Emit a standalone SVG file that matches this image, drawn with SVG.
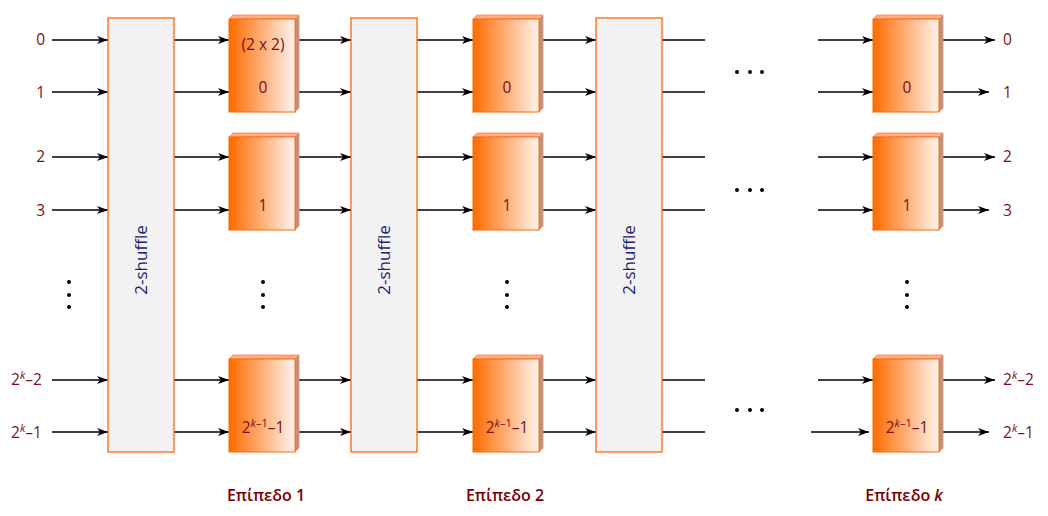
<svg xmlns="http://www.w3.org/2000/svg" width="1048" height="516" viewBox="0 0 1048 516">
<defs>
<linearGradient id="sg" x1="0" y1="0" x2="1" y2="0">
<stop offset="0" stop-color="#ff6a00"/>
<stop offset="1" stop-color="#fff4ee"/>
</linearGradient>
<marker id="ar" markerWidth="12" markerHeight="8" refX="11" refY="4" orient="auto" markerUnits="userSpaceOnUse">
<path d="M0,0 L11,4 L0,8 L3,4 Z" fill="#000"/>
</marker>
<g id="sw">
<path d="M0,4 L4,0 L70,0 L66,4 Z" fill="#ffb08a" stroke="#ff8040" stroke-width="0.8"/>
<path d="M66,4 L70,0 L70,93 L66,97 Z" fill="#c09080" stroke="#e09070" stroke-width="0.8"/>
<rect x="0" y="4" width="66" height="93" fill="url(#sg)" stroke="#ff6a00" stroke-width="1"/>
</g>
</defs>
<style>
.sh{fill:#f2f2f2;stroke:#ff6a00;stroke-width:1.3}
.ln{stroke:#000;stroke-width:1.3;fill:none}
.a{marker-end:url(#ar)}
.lb{font-family:"Open Sans","DejaVu Sans",sans-serif;font-size:15.5px;fill:#7a1010}
.bl{font-family:"Open Sans","DejaVu Sans",sans-serif;font-size:16px;fill:#7a0000;font-weight:600}
.st{font-family:"Open Sans","DejaVu Sans",sans-serif;font-size:17px;fill:#22226e}
.dt{fill:#000}
</style>
<rect width="1048" height="516" fill="#fff"/>

<g id="connectors">
<g class="ln a">
<line x1="52" y1="40" x2="108" y2="40"/><line x1="52" y1="92" x2="108" y2="92"/>
<line x1="52" y1="157" x2="108" y2="157"/><line x1="52" y1="210" x2="108" y2="210"/>
<line x1="52" y1="380" x2="108" y2="380"/><line x1="52" y1="432" x2="108" y2="432"/>
<line x1="174" y1="40" x2="229" y2="40"/><line x1="174" y1="92" x2="229" y2="92"/>
<line x1="174" y1="157" x2="229" y2="157"/><line x1="174" y1="210" x2="229" y2="210"/>
<line x1="174" y1="380" x2="229" y2="380"/><line x1="174" y1="432" x2="229" y2="432"/>
<line x1="297" y1="40" x2="351" y2="40"/><line x1="297" y1="92" x2="351" y2="92"/>
<line x1="297" y1="157" x2="351" y2="157"/><line x1="297" y1="210" x2="351" y2="210"/>
<line x1="297" y1="380" x2="351" y2="380"/><line x1="297" y1="432" x2="351" y2="432"/>
<line x1="417" y1="40" x2="473" y2="40"/><line x1="417" y1="92" x2="473" y2="92"/>
<line x1="417" y1="157" x2="473" y2="157"/><line x1="417" y1="210" x2="473" y2="210"/>
<line x1="417" y1="380" x2="473" y2="380"/><line x1="417" y1="432" x2="473" y2="432"/>
<line x1="541" y1="40" x2="596" y2="40"/><line x1="541" y1="92" x2="596" y2="92"/>
<line x1="541" y1="157" x2="596" y2="157"/><line x1="541" y1="210" x2="596" y2="210"/>
<line x1="541" y1="380" x2="596" y2="380"/><line x1="541" y1="432" x2="596" y2="432"/>
<line x1="818" y1="40" x2="873" y2="40"/><line x1="818" y1="92" x2="873" y2="92"/>
<line x1="818" y1="157" x2="873" y2="157"/><line x1="818" y1="210" x2="873" y2="210"/>
<line x1="818" y1="380" x2="873" y2="380"/><line x1="811" y1="432" x2="869" y2="432"/>
<line x1="941" y1="40" x2="995" y2="40"/><line x1="941" y1="92" x2="989" y2="92"/>
<line x1="941" y1="157" x2="995" y2="157"/><line x1="941" y1="210" x2="989" y2="210"/>
<line x1="941" y1="380" x2="995" y2="380"/><line x1="943" y1="432" x2="989" y2="432"/>
</g>
<g class="ln">
<line x1="662" y1="40" x2="705" y2="40"/><line x1="662" y1="92" x2="705" y2="92"/>
<line x1="662" y1="157" x2="705" y2="157"/><line x1="662" y1="210" x2="705" y2="210"/>
<line x1="662" y1="380" x2="705" y2="380"/><line x1="662" y1="432" x2="705" y2="432"/>
</g>
</g>

<g id="shuffle1"><rect class="sh" x="108" y="18" width="66" height="434"/>
<text class="st" transform="translate(147,260) rotate(-90)" text-anchor="middle">2-shuffle</text></g>
<g id="shuffle2"><rect class="sh" x="351" y="18" width="66" height="434"/>
<text class="st" transform="translate(390,260) rotate(-90)" text-anchor="middle">2-shuffle</text></g>
<g id="shuffle3"><rect class="sh" x="596" y="18" width="66" height="434"/>
<text class="st" transform="translate(635,260) rotate(-90)" text-anchor="middle">2-shuffle</text></g>

<g id="sw1-0"><use href="#sw" x="229" y="15"/>
<text class="lb" x="263" y="50" text-anchor="middle">(2 x 2)</text>
<text class="lb" x="263" y="93" text-anchor="middle">0</text></g>
<g id="sw1-1"><use href="#sw" x="229" y="133"/><text class="lb" x="263" y="211" text-anchor="middle">1</text></g>
<g id="sw1-n"><use href="#sw" x="229" y="355"/><text class="lb" x="263" y="433" text-anchor="middle">2<tspan font-size="11" dy="-6" font-style="italic">k</tspan><tspan font-size="11">–1</tspan><tspan dy="6">–1</tspan></text></g>

<g id="sw2-0"><use href="#sw" x="473" y="15"/><text class="lb" x="507" y="93" text-anchor="middle">0</text></g>
<g id="sw2-1"><use href="#sw" x="473" y="133"/><text class="lb" x="507" y="211" text-anchor="middle">1</text></g>
<g id="sw2-n"><use href="#sw" x="473" y="355"/><text class="lb" x="507" y="433" text-anchor="middle">2<tspan font-size="11" dy="-6" font-style="italic">k</tspan><tspan font-size="11">–1</tspan><tspan dy="6">–1</tspan></text></g>

<g id="swk-0"><use href="#sw" x="873" y="15"/><text class="lb" x="907" y="93" text-anchor="middle">0</text></g>
<g id="swk-1"><use href="#sw" x="873" y="133"/><text class="lb" x="907" y="211" text-anchor="middle">1</text></g>
<g id="swk-n"><use href="#sw" x="873" y="355"/><text class="lb" x="907" y="433" text-anchor="middle">2<tspan font-size="11" dy="-6" font-style="italic">k</tspan><tspan font-size="11">–1</tspan><tspan dy="6">–1</tspan></text></g>

<g id="labels-in">
<text class="lb" x="45" y="45" text-anchor="end">0</text>
<text class="lb" x="45" y="98" text-anchor="end">1</text>
<text class="lb" x="45" y="162" text-anchor="end">2</text>
<text class="lb" x="45" y="216" text-anchor="end">3</text>
<text class="lb" x="11" y="385">2<tspan font-size="11" dy="-6" font-style="italic">k</tspan><tspan dy="6">–2</tspan></text>
<text class="lb" x="11" y="438">2<tspan font-size="11" dy="-6" font-style="italic">k</tspan><tspan dy="6">–1</tspan></text>
</g>
<g id="labels-out">
<text class="lb" x="1003" y="45">0</text>
<text class="lb" x="1003" y="98">1</text>
<text class="lb" x="1003" y="162">2</text>
<text class="lb" x="1003" y="216">3</text>
<text class="lb" x="1003" y="385">2<tspan font-size="11" dy="-6" font-style="italic">k</tspan><tspan dy="6">–2</tspan></text>
<text class="lb" x="1003" y="438">2<tspan font-size="11" dy="-6" font-style="italic">k</tspan><tspan dy="6">–1</tspan></text>
</g>

<g id="dots" class="dt">
<circle cx="69" cy="282" r="2"/><circle cx="69" cy="295" r="2"/><circle cx="69" cy="307" r="2"/>
<circle cx="263" cy="282" r="2"/><circle cx="263" cy="295" r="2"/><circle cx="263" cy="307" r="2"/>
<circle cx="507" cy="282" r="2"/><circle cx="507" cy="295" r="2"/><circle cx="507" cy="307" r="2"/>
<circle cx="907" cy="282" r="2"/><circle cx="907" cy="295" r="2"/><circle cx="907" cy="307" r="2"/>
<circle cx="737" cy="72" r="2"/><circle cx="750" cy="72" r="2"/><circle cx="762" cy="72" r="2"/>
<circle cx="737" cy="190" r="2"/><circle cx="750" cy="190" r="2"/><circle cx="762" cy="190" r="2"/>
<circle cx="737" cy="410" r="2"/><circle cx="750" cy="410" r="2"/><circle cx="762" cy="410" r="2"/>
</g>

<g id="levels">
<text class="bl" x="266" y="501" text-anchor="middle">Επίπεδο 1</text>
<text class="bl" x="505" y="501" text-anchor="middle">Επίπεδο 2</text>
<text class="bl" x="904" y="501" text-anchor="middle">Επίπεδο <tspan font-style="italic">k</tspan></text>
</g>
</svg>
